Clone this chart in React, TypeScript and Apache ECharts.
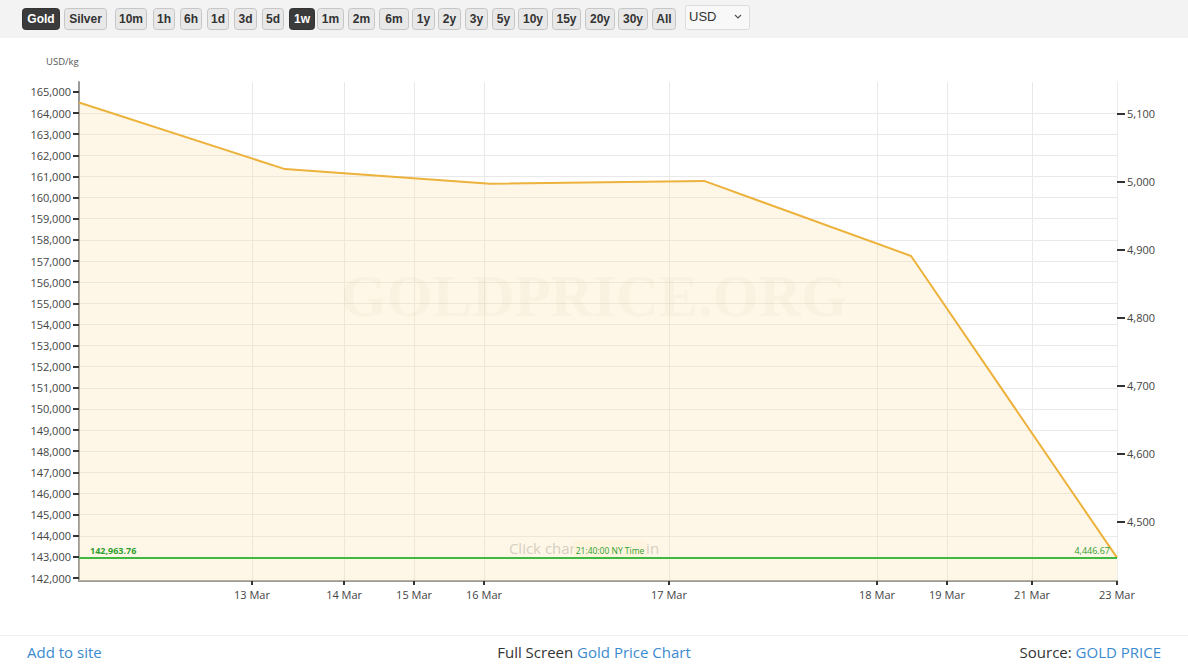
import React, { useEffect, useRef } from 'react';
import * as echarts from 'echarts';

// ---- data ----
const prices = [164500, 161350, 160650, 160790, 157240, 142963.76]; // USD/kg
const pointPos = [0, 0.992, 1.98, 3.011, 4.008, 5]; // position of each point on the (compressed) time axis
const xTickPos = [0.833, 1.277, 1.614, 1.951, 2.842, 3.844, 4.181, 4.591, 5];
const xTickLabels = ['13 Mar', '14 Mar', '15 Mar', '16 Mar', '17 Mar', '18 Mar', '19 Mar', '21 Mar', '23 Mar'];
const leftTicks = [
  142000, 143000, 144000, 145000, 146000, 147000, 148000, 149000, 150000, 151000, 152000, 153000,
  154000, 155000, 156000, 157000, 158000, 159000, 160000, 161000, 162000, 163000, 164000, 165000,
];
const rightTicks = [4500, 4600, 4700, 4800, 4900, 5000, 5100];
const lastPriceKg = 142963.76;
const lastPriceOz = 4446.67;
const lastTime = '21:40:00 NY Time';
const OZ_PER_KG = 32.1507466;
const buttons: [string, number, number, boolean][] = [
  ['Gold', 22, 37, true], ['Silver', 64, 42, false], ['10m', 115, 31, false], ['1h', 153, 21, false],
  ['6h', 180, 21, false], ['1d', 207, 21, false], ['3d', 234, 22, false], ['5d', 262, 21, false],
  ['1w', 289, 25, true], ['1m', 317, 26, false], ['2m', 348, 26, false], ['6m', 379, 29, false],
  ['1y', 412, 22, false], ['2y', 438, 22, false], ['3y', 465, 22, false], ['5y', 492, 22, false],
  ['10y', 518, 29, false], ['15y', 552, 28, false], ['20y', 585, 29, false], ['30y', 618, 29, false],
  ['All', 652, 23, false],
];

const Y_MIN = 141860;
const Y_MAX = 165470;

const fmt = (v: number, d = 0) =>
  v.toLocaleString('en-US', { minimumFractionDigits: d, maximumFractionDigits: d });

export default function App() {
  const ref = useRef<HTMLDivElement>(null);
  useEffect(() => {
    if (!ref.current) return;
    const chart = echarts.init(ref.current, undefined, { renderer: 'svg' });
    const font = '"Open Sans", "Noto Sans", sans-serif';
    const green = '#2f9f2f';
    const cream = '#fef3dd';

    const graphics: any[] = [
      { type: 'rect', z: 0, shape: { x: 0, y: 0, width: 1188, height: 38 }, style: { fill: '#f3f3f3' } },
    ];
    buttons.forEach(([label, x, w, active]) => {
      graphics.push({
        type: 'rect', z: 1,
        shape: { x: x + 0.5, y: 8.5, width: w, height: 21, r: 3 },
        style: { fill: active ? '#3b3b3b' : '#e8e8e8', stroke: active ? '#333' : '#c6c6c6', lineWidth: 1 },
      });
      graphics.push({
        type: 'text', z: 2, x: x + w / 2 + 0.5, y: 19,
        style: {
          text: label, fill: active ? '#ffffff' : '#333333',
          font: 'bold 12px "Liberation Sans", Arial, sans-serif', textAlign: 'center', textVerticalAlign: 'middle',
        },
      });
    });
    graphics.push(
      { type: 'rect', z: 1, shape: { x: 685.5, y: 5.5, width: 64, height: 24, r: 2 }, style: { fill: '#f8f8f8', stroke: '#dcdcdc', lineWidth: 1 } },
      { type: 'text', z: 2, x: 689, y: 16, style: { text: 'USD', fill: '#333', font: '13px "Liberation Sans", Arial, sans-serif', textVerticalAlign: 'middle' } },
      { type: 'polyline', z: 2, shape: { points: [[735, 15], [738, 18], [741, 15]] }, style: { stroke: '#555', lineWidth: 1.2, fill: null } },
      { type: 'text', z: 1, x: 46, y: 61.5, style: { text: 'USD/kg', fill: '#555', font: `9.5px ${font}`, textVerticalAlign: 'middle' } },
      {
        type: 'text', z: 1, x: 594, y: 296,
        style: { text: 'GOLDPRICE.ORG', fill: 'rgba(140,110,60,0.05)', font: 'bold 59px "Liberation Serif", serif', textAlign: 'center', textVerticalAlign: 'middle' },
      },
      {
        type: 'text', z: 1, x: 584, y: 548,
        style: { text: 'Click chart to zoom in', fill: '#c8c8c8', font: `15px ${font}`, textAlign: 'center', textVerticalAlign: 'middle' },
      },
      { type: 'line', z: 1, shape: { x1: 0, y1: 635.5, x2: 1188, y2: 635.5 }, style: { stroke: '#efefef', lineWidth: 1 } },
      { type: 'text', z: 1, x: 27, y: 652, style: { text: 'Add to site', fill: '#3a8bd0', font: `15px ${font}`, textVerticalAlign: 'middle' } },
      {
        type: 'text', z: 1, x: 594, y: 652,
        style: {
          text: '{a|Full Screen }{b|Gold Price Chart}', textAlign: 'center', textVerticalAlign: 'middle', font: `15px ${font}`,
          rich: {
            a: { fill: '#333', fontSize: 15, fontFamily: font },
            b: { fill: '#3a8bd0', fontSize: 15, fontFamily: font },
          },
        },
      },
      {
        type: 'text', z: 1, x: 1161, y: 652,
        style: {
          text: '{a|Source: }{b|GOLD PRICE}', textAlign: 'right', textVerticalAlign: 'middle', font: `15px ${font}`,
          rich: {
            a: { fill: '#333', fontSize: 15, fontFamily: font },
            b: { fill: '#3a8bd0', fontSize: 15, fontFamily: font },
          },
        },
      },
    );

    const axisLabelStyle = { color: '#444', fontSize: 11, fontFamily: font };

    chart.setOption({
      animation: false,
      backgroundColor: '#ffffff',
      grid: { left: 79, right: 71, top: 82, bottom: 88, containLabel: false },
      xAxis: {
        type: 'value', min: 0, max: 5,
        axisLine: { show: true, lineStyle: { color: '#9a9a9a', width: 2 } },
        axisTick: { show: true, length: 4, customValues: xTickPos, lineStyle: { color: '#333', width: 2 } },
        axisLabel: {
          ...axisLabelStyle, margin: 8, customValues: xTickPos,
          formatter: (v: number) => {
            const i = xTickPos.findIndex((p) => Math.abs(p - v) < 1e-6);
            return i >= 0 ? xTickLabels[i] : '';
          },
        },
        splitLine: { show: true, lineStyle: { color: '#e9e9e9', width: 1 } },
      },
      yAxis: [
        {
          type: 'value', min: Y_MIN, max: Y_MAX, position: 'left',
          axisLine: { show: true, lineStyle: { color: '#9a9a9a', width: 2 } },
          axisTick: { show: true, length: 6, customValues: leftTicks, lineStyle: { color: '#333', width: 2 } },
          axisLabel: { ...axisLabelStyle, margin: 8, customValues: leftTicks, formatter: (v: number) => fmt(v) },
          splitLine: { show: true, showMinLine: false, showMaxLine: false, lineStyle: { color: '#e9e9e9', width: 1 } },
        },
        {
          type: 'value', min: Y_MIN / OZ_PER_KG, max: Y_MAX / OZ_PER_KG, position: 'right',
          axisLine: { show: true, lineStyle: { color: '#ececec', width: 1 } },
          axisTick: { show: true, length: 8, customValues: rightTicks, lineStyle: { color: '#333', width: 2 } },
          axisLabel: { ...axisLabelStyle, margin: 10, customValues: rightTicks, formatter: (v: number) => fmt(v) },
          splitLine: { show: false },
        },
      ],
      graphic: graphics,
      series: [
        {
          type: 'line',
          yAxisIndex: 0,
          data: pointPos.map((x, i) => [x, prices[i]]),
          symbol: 'none',
          lineStyle: { color: '#ecb23c', width: 2 },
          areaStyle: { color: 'rgba(253,226,170,0.4)' },
          z: 2,
          markLine: {
            silent: true,
            symbol: 'none',
            lineStyle: { color: '#3cb83c', width: 1.5, type: 'solid' },
            data: [
              {
                yAxis: lastPriceKg,
                label: {
                  show: true, position: 'insideStartTop', distance: [11, 3], formatter: fmt(lastPriceKg, 2),
                  color: green, fontSize: 9, fontWeight: 'bold', fontFamily: font,
                },
              },
              {
                yAxis: lastPriceKg,
                label: {
                  show: true, position: 'insideEndTop', distance: [7, 3], formatter: fmt(lastPriceOz, 2),
                  color: green, fontSize: 9, fontFamily: font,
                },
              },
              {
                yAxis: lastPriceKg,
                label: {
                  show: true, position: 'insideMiddleTop', distance: 1,
                  formatter: `{s|}{t|${lastTime}}`,
                  rich: {
                    s: { width: 24 },
                    t: { backgroundColor: cream, color: green, fontSize: 8.5, fontFamily: font, padding: [5, 2, 2, 2] },
                  },
                },
              },
            ],
          },
        },
      ],
    });
    return () => chart.dispose();
  }, []);
  return (
    <div
      ref={ref}
      style={{ position: 'absolute', left: 0, top: 0, width: 1188, height: 669, background: '#fff' }}
    />
  );
}
